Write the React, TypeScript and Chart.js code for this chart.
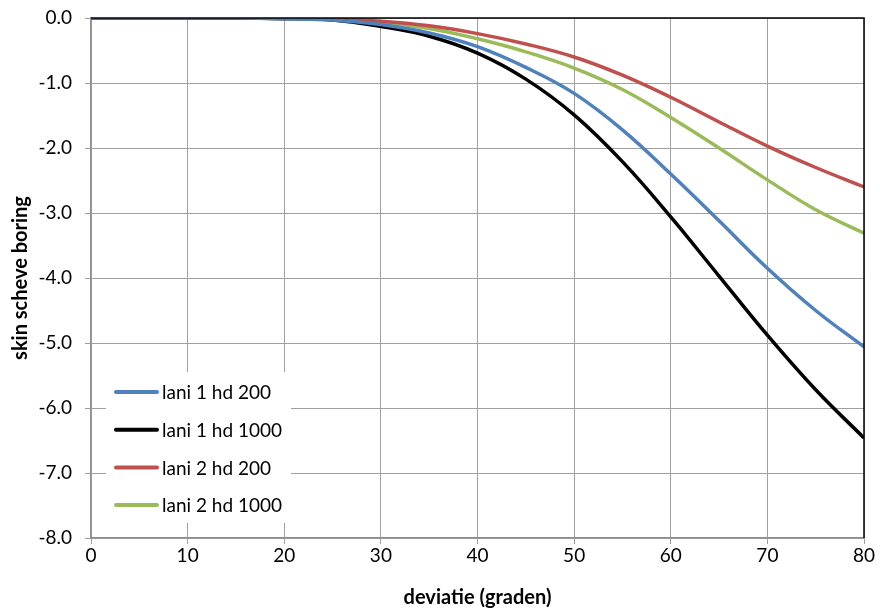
import React, { useEffect, useRef } from "react";
import { Chart, registerables } from "chart.js";

Chart.register(...registerables);

const deviatie = [0, 5, 10, 15, 20, 25, 30, 35, 40, 45, 50, 55, 60, 65, 70, 75, 80];
const lani1hd200 = [0, 0, 0, 0, -0.01, -0.03, -0.1, -0.23, -0.44, -0.76, -1.16, -1.72, -2.4, -3.12, -3.85, -4.5, -5.06];
const lani1hd1000 = [0, 0, 0, 0, -0.01, -0.03, -0.13, -0.28, -0.54, -0.94, -1.49, -2.21, -3.06, -3.97, -4.88, -5.72, -6.46];
const lani2hd200 = [0, 0, 0, 0, 0, -0.01, -0.05, -0.12, -0.24, -0.4, -0.6, -0.88, -1.22, -1.6, -1.97, -2.3, -2.6];
const lani2hd1000 = [0, 0, 0, 0, 0, -0.02, -0.07, -0.16, -0.32, -0.52, -0.77, -1.1, -1.53, -2.0, -2.49, -2.95, -3.31];
const seriesLabels = ["lani 1 hd 200", "lani 1 hd 1000", "lani 2 hd 200", "lani 2 hd 1000"];
const seriesColors = ["#4F81BD", "#000000", "#C0504D", "#9BBB59"];
const xTicks = [0, 10, 20, 30, 40, 50, 60, 70, 80];

const FONT = "Lato, 'Open Sans', sans-serif";

const toPts = (ys: number[]) => ys.map((y, i) => ({ x: deviatie[i], y }));

const framePlugin = {
  id: "frame",
  afterDraw(chart: any) {
    const { ctx, chartArea } = chart;
    const { left, right, top, bottom } = chartArea;
    ctx.save();
    ctx.strokeStyle = "#000000";
    ctx.lineWidth = 1.5;
    ctx.beginPath();
    ctx.moveTo(left, top);
    ctx.lineTo(right, top);
    ctx.lineTo(right, bottom);
    ctx.stroke();

    // legend inside plot area
    const bx = left + 15, by = top + 354, bw = 185, bh = 151;
    ctx.fillStyle = "#ffffff";
    ctx.fillRect(bx, by, bw, bh);
    ctx.font = `19px ${FONT}`;
    ctx.textBaseline = "middle";
    ctx.textAlign = "left";
    chart.data.datasets.forEach((ds: any, i: number) => {
      const cy = by + 20 + i * 37.7;
      ctx.strokeStyle = ds.borderColor;
      ctx.lineWidth = 4;
      ctx.lineCap = "round";
      ctx.beginPath();
      ctx.moveTo(bx + 10, cy);
      ctx.lineTo(bx + 51, cy);
      ctx.stroke();
      ctx.fillStyle = "#000000";
      ctx.fillText(ds.label, bx + 56, cy + 1);
    });
    ctx.restore();
  },
};

export default function App() {
  const ref = useRef<HTMLCanvasElement>(null);
  useEffect(() => {
    document.body.style.margin = "0";
    const chart = new Chart(ref.current!, {
      type: "line",
      data: {
        datasets: [lani1hd200, lani1hd1000, lani2hd200, lani2hd1000].map((d, i) => ({
          label: seriesLabels[i],
          data: toPts(d),
          borderColor: seriesColors[i],
          backgroundColor: seriesColors[i],
          borderWidth: 3.5,
          pointRadius: 0,
          tension: 0.4,
          fill: false,
        })),
      },
      options: {
        animation: false,
        responsive: false,
        layout: { padding: { left: 0, top: 18, right: 16, bottom: 0 } },
        plugins: { legend: { display: false }, tooltip: { enabled: false } },
        scales: {
          x: {
            type: "linear",
            min: 0,
            max: 80,
            afterBuildTicks: (axis: any) => {
              axis.ticks = xTicks.map((v) => ({ value: v }));
            },
            afterFit: (axis: any) => {
              axis.height = 74;
              axis.paddingLeft = 0;
              axis.paddingRight = 0;
            },
            grid: { color: "#a0a0a0", lineWidth: 1, tickLength: 6, drawTicks: true },
            border: { color: "#909090", width: 1.5 },
            ticks: { color: "#000", font: { family: FONT, size: 19 }, padding: 0, maxRotation: 0 },
            title: {
              display: true,
              text: "deviatie (graden)",
              color: "#000",
              font: { family: FONT, size: 20, weight: "bold" },
              padding: { top: 0, bottom: 2 },
            },
          },
          y: {
            min: -8,
            max: 0,
            afterFit: (axis: any) => {
              axis.width = 91;
              axis.paddingTop = 0;
              axis.paddingBottom = 0;
            },
            grid: { color: "#a0a0a0", lineWidth: 1, tickLength: 6 },
            border: { color: "#909090", width: 1.5 },
            ticks: {
              stepSize: 1,
              color: "#000",
              font: { family: FONT, size: 19 },
              padding: 13,
              callback: (v: any) => Number(v).toFixed(1),
            },
            title: {
              display: true,
              text: "skin scheve boring",
              color: "#000",
              font: { family: FONT, size: 20, weight: "bold" },
              padding: { top: 9, bottom: 9 },
            },
          },
        },
      },
      plugins: [framePlugin],
    });
    return () => chart.destroy();
  }, []);
  return (
    <div style={{ width: 880, height: 612 }}>
      <canvas ref={ref} width={880} height={612} style={{ display: "block" }} />
    </div>
  );
}
